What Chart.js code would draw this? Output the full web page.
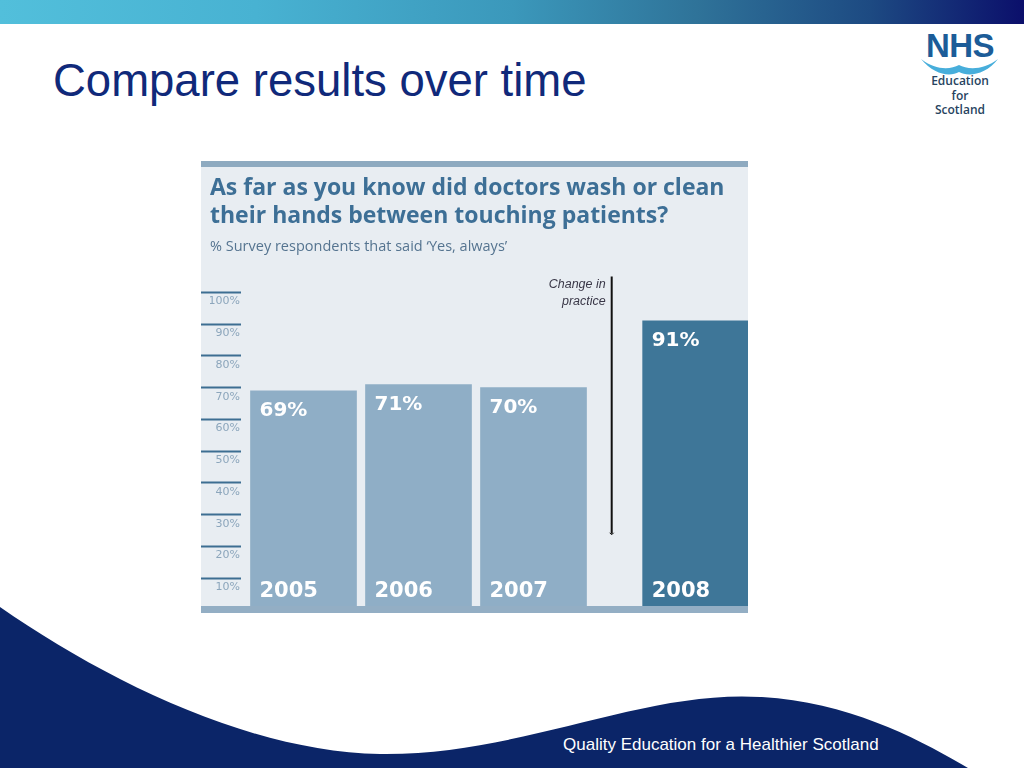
<!DOCTYPE html>
<html>
<head>
<meta charset="utf-8">
<script src="https://cdn.jsdelivr.net/npm/chart.js@4.4.1/dist/chart.umd.min.js"></script>
<style>
  body { margin: 0; background: #fff; }
  #slide { position: relative; width: 1024px; height: 768px; overflow: hidden; background: #fff; font-family: "Liberation Sans", Arial, sans-serif; }
  #topbar { position: absolute; left: 0; top: 0; width: 1024px; height: 24px;
    background: linear-gradient(to right, #52bfdb 0%, #48b2d2 25%, #3b98bb 50%, #2f7399 68%, #1d4a82 85%, #0b0f6b 100%); }
  #heading { position: absolute; left: 53px; top: 55px; font-size: 45.5px; color: #10297a; white-space: nowrap; }
  #logo { position: absolute; left: 905px; top: 30px; width: 110px; text-align: center; }
  #logo .nhs { font: bold 33px "Liberation Sans", Arial, sans-serif; color: #1c5c98; line-height: 32px; letter-spacing: -0.5px; }
  #logo .sub { font: 600 12px "Open Sans", sans-serif; color: #27445f; line-height: 14.5px; margin-top: 12px; }
  #wave { position: absolute; left: 0; top: 0; }
  #footer { position: absolute; left: 563px; top: 735px; font-size: 17px; color: #fff; white-space: nowrap; }
  #panel { position: absolute; left: 201px; top: 161px; width: 547px; height: 452px; }
</style>
</head>
<body>
<div id="slide">
  <div id="topbar"></div>
  <div id="heading">Compare results over time</div>
  <svg id="wave" width="1024" height="768">
    <path d="M0,607 C105,680 250,752 380,754 C520,756 640,690 760,697 C850,702 920,740 968,768 L0,768 Z" fill="#0b2568"/>
    <path d="M921,59 C935,70 950,70 959,65 C968,70 984,70 998,59 C986,75 968,77 959,72 C950,77 934,75 921,59 Z" fill="#47aedb"/>
  </svg>
  <div id="logo">
    <div class="nhs">NHS</div>
    <div class="sub">Education<br>for<br>Scotland</div>
  </div>
  <div id="footer">Quality Education for a Healthier Scotland</div>
  <div id="panel"><canvas id="chart" width="547" height="452"></canvas></div>
</div>

<script>
// survey data
var years = ['2005', '2006', '2007', '2008'];
var alwaysPct = [69, 71, 70, 91];
var yTicks = [10, 20, 30, 40, 50, 60, 70, 80, 90, 100];
var chartTitle = ['As far as you know did doctors wash or clean', 'their hands between touching patients?'];
var chartSubtitle = '% Survey respondents that said \u2018Yes, always\u2019';
var changeLabel = ['Change in', 'practice'];

// layout: 2008 sits after a gap where practice changed
var gapBefore = 3;
var gapWidth = 0.41;
var changeAt = { x: 2.68, from: 105, to: 24 };

var lightBar = '#8faec6';
var darkBar = '#3e7698';

var slots = years.map(function (y, i) { return i + (i >= gapBefore ? gapWidth : 0); });

var panelPlugin = {
    id: 'panel',
    beforeDraw: function (chart) {
        var ctx = chart.ctx;
        ctx.save();
        ctx.fillStyle = '#e8edf2';
        ctx.fillRect(0, 0, chart.width, chart.height);
        ctx.fillStyle = '#8eaac0';
        ctx.fillRect(0, 0, chart.width, 6);
        ctx.restore();
    },
    afterDatasetsDraw: function (chart) {
        var ctx = chart.ctx;
        var area = chart.chartArea;
        var xs = chart.scales.x, ys = chart.scales.y;
        ctx.save();
        // bottom strip
        ctx.fillStyle = '#93aec4';
        ctx.fillRect(0, area.bottom - 4, chart.width, chart.height - area.bottom + 4);

        // labels inside bars
        ctx.fillStyle = '#ffffff';
        ctx.textAlign = 'left';
        ctx.textBaseline = 'middle';
        chart.getDatasetMeta(0).data.forEach(function (bar, i) {
            var left = bar.x - bar.width / 2 + 9;
            ctx.font = 'bold 20px "DejaVu Sans"';
            ctx.fillText(alwaysPct[i] + '%', left, bar.y + 20);
            ctx.font = 'bold 21px "DejaVu Sans"';
            ctx.fillText(years[i], left, area.bottom - 18);
        });

        // change in practice marker
        var lx = xs.getPixelForValue(changeAt.x);
        var top = ys.getPixelForValue(changeAt.from);
        var bottom = ys.getPixelForValue(changeAt.to);
        ctx.strokeStyle = '#111';
        ctx.lineWidth = 2;
        ctx.beginPath();
        ctx.moveTo(lx, top);
        ctx.lineTo(lx, bottom);
        ctx.stroke();
        ctx.lineWidth = 1;
        ctx.beginPath();
        ctx.moveTo(lx - 2, bottom - 1);
        ctx.lineTo(lx, bottom + 1);
        ctx.lineTo(lx + 2, bottom - 1);
        ctx.stroke();
        ctx.fillStyle = '#3a3848';
        ctx.font = 'italic 12.5px "Liberation Sans"';
        ctx.textAlign = 'right';
        changeLabel.forEach(function (t, i) {
            ctx.fillText(t, lx - 6, top + 8 + i * 17);
        });
        ctx.restore();
    }
};

var chart = new Chart(document.getElementById('chart').getContext('2d'), {
    type: 'bar',
    data: {
        datasets: [{
            data: alwaysPct.map(function (v, i) { return { x: slots[i], y: v }; }),
            backgroundColor: years.map(function (y, i) { return i === years.length - 1 ? darkBar : lightBar; }),
            borderWidth: 0,
            barThickness: 106
        }]
    },
    options: {
        responsive: false,
        animation: false,
        layout: {
            padding: { left: 9, right: 0, top: 0, bottom: 3 }
        },
        plugins: {
            legend: { display: false },
            tooltip: { enabled: false },
            title: {
                display: true,
                text: chartTitle,
                align: 'start',
                color: '#3d6f96',
                font: { family: 'Open Sans', weight: 'bold', size: 23, lineHeight: 1.2174 },
                padding: { top: 13, bottom: 4 }
            },
            subtitle: {
                display: true,
                text: chartSubtitle,
                align: 'start',
                color: '#557490',
                font: { family: 'Open Sans', size: 14.5, lineHeight: 1.2 },
                padding: { top: 4.3, bottom: 4.9 }
            }
        },
        scales: {
            x: {
                type: 'linear',
                display: false,
                offset: false,
                bounds: 'data',
                min: -0.5435,
                max: 3.8652
            },
            y: {
                min: 0,
                max: 110,
                border: { display: false },
                afterBuildTicks: function (scale) {
                    scale.ticks = yTicks.map(function (v) { return { value: v }; });
                },
                afterFit: function (scale) { scale.width = 31; },
                grid: {
                    drawOnChartArea: false,
                    drawTicks: true,
                    tickLength: 40,
                    tickWidth: 2,
                    tickColor: '#3d6e92'
                },
                ticks: {
                    padding: -39,
                    labelOffset: 9,
                    color: '#8ca6bc',
                    font: { family: 'DejaVu Sans', size: 11 },
                    callback: function (v) { return v + '%'; }
                }
            }
        }
    },
    plugins: [panelPlugin]
});
</script>
</body>
</html>
